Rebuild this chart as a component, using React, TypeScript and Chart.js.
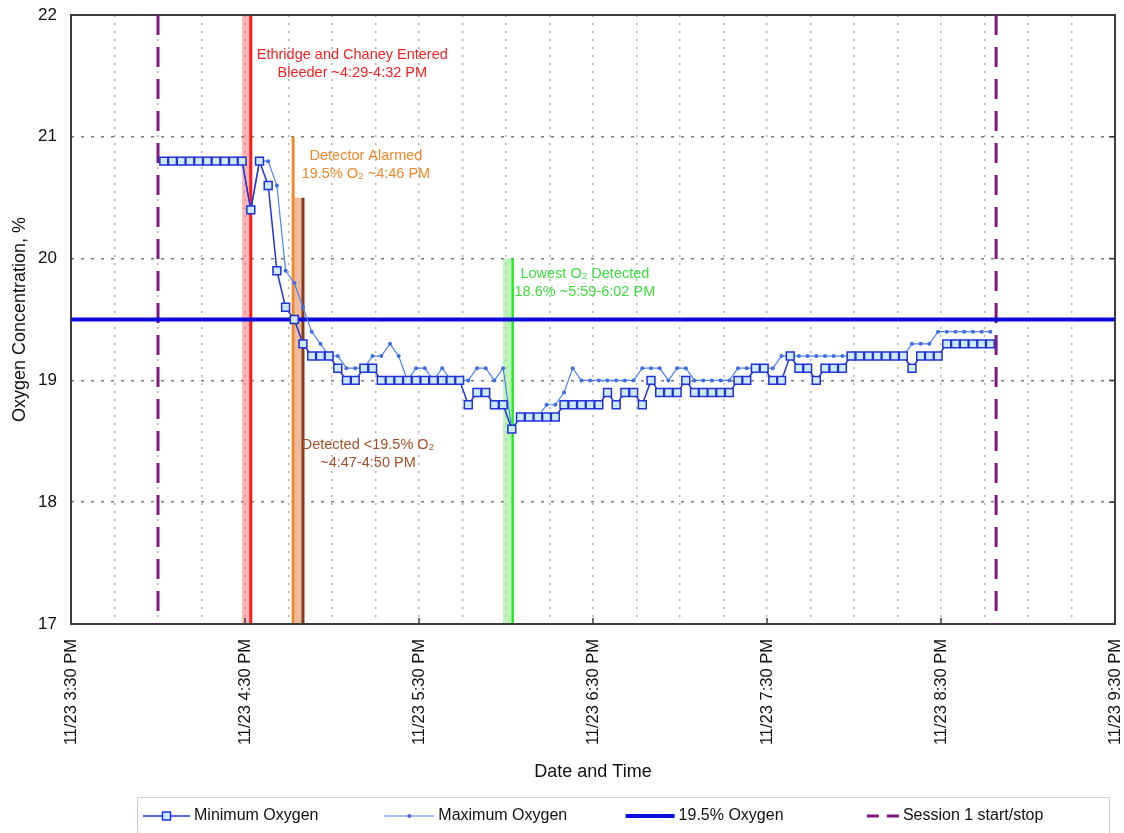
import React, { useEffect, useRef } from 'react';
import { Chart, registerables } from 'chart.js';

Chart.register(...registerables);

// ---------- data ----------
const sampleTimes = [
  '16:02', '16:05', '16:08', '16:11', '16:14', '16:17', '16:20', '16:23', '16:26', '16:29',
  '16:32', '16:35', '16:38', '16:41', '16:44', '16:47', '16:50', '16:53', '16:56', '16:59',
  '17:02', '17:05', '17:08', '17:11', '17:14', '17:17', '17:20', '17:23', '17:26', '17:29',
  '17:32', '17:35', '17:38', '17:41', '17:44', '17:47', '17:50', '17:53', '17:56', '17:59',
  '18:02', '18:05', '18:08', '18:11', '18:14', '18:17', '18:20', '18:23', '18:26', '18:29',
  '18:32', '18:35', '18:38', '18:41', '18:44', '18:47', '18:50', '18:53', '18:56', '18:59',
  '19:02', '19:05', '19:08', '19:11', '19:14', '19:17', '19:20', '19:23', '19:26', '19:29',
  '19:32', '19:35', '19:38', '19:41', '19:44', '19:47', '19:50', '19:53', '19:56', '19:59',
  '20:02', '20:05', '20:08', '20:11', '20:14', '20:17', '20:20', '20:23', '20:26', '20:29',
  '20:32', '20:35', '20:38', '20:41', '20:44', '20:47',
];

const minimumOxygen = [
  20.8, 20.8, 20.8, 20.8, 20.8, 20.8, 20.8, 20.8, 20.8, 20.8,
  20.4, 20.8, 20.6, 19.9, 19.6, 19.5, 19.3, 19.2, 19.2, 19.2,
  19.1, 19.0, 19.0, 19.1, 19.1, 19.0, 19.0, 19.0, 19.0, 19.0,
  19.0, 19.0, 19.0, 19.0, 19.0, 18.8, 18.9, 18.9, 18.8, 18.8,
  18.6, 18.7, 18.7, 18.7, 18.7, 18.7, 18.8, 18.8, 18.8, 18.8,
  18.8, 18.9, 18.8, 18.9, 18.9, 18.8, 19.0, 18.9, 18.9, 18.9,
  19.0, 18.9, 18.9, 18.9, 18.9, 18.9, 19.0, 19.0, 19.1, 19.1,
  19.0, 19.0, 19.2, 19.1, 19.1, 19.0, 19.1, 19.1, 19.1, 19.2,
  19.2, 19.2, 19.2, 19.2, 19.2, 19.2, 19.1, 19.2, 19.2, 19.2,
  19.3, 19.3, 19.3, 19.3, 19.3, 19.3,
];

const maximumOxygen = [
  20.8, 20.8, 20.8, 20.8, 20.8, 20.8, 20.8, 20.8, 20.8, 20.8,
  20.4, 20.8, 20.8, 20.6, 19.9, 19.8, 19.6, 19.4, 19.3, 19.2,
  19.2, 19.1, 19.1, 19.1, 19.2, 19.2, 19.3, 19.2, 19.0, 19.1,
  19.1, 19.0, 19.1, 19.0, 19.0, 19.0, 19.1, 19.1, 19.0, 19.1,
  18.6, 18.7, 18.7, 18.7, 18.8, 18.8, 18.9, 19.1, 19.0, 19.0,
  19.0, 19.0, 19.0, 19.0, 19.0, 19.1, 19.1, 19.1, 19.0, 19.1,
  19.1, 19.0, 19.0, 19.0, 19.0, 19.0, 19.1, 19.1, 19.1, 19.1,
  19.1, 19.2, 19.2, 19.2, 19.2, 19.2, 19.2, 19.2, 19.2, 19.2,
  19.2, 19.2, 19.2, 19.2, 19.2, 19.2, 19.3, 19.3, 19.3, 19.4,
  19.4, 19.4, 19.4, 19.4, 19.4, 19.4,
];

const thresholdLevel = 19.5;
const sessionTimes = ['16:00', '20:49'];
const seriesLabels = ['Minimum Oxygen', 'Maximum Oxygen', '19.5% Oxygen', 'Session 1 start/stop'];

const xAxisStart = '15:30';
const xAxisEnd = '21:30';
const xTickLabels = [
  '11/23 3:30 PM', '11/23 4:30 PM', '11/23 5:30 PM', '11/23 6:30 PM',
  '11/23 7:30 PM', '11/23 8:30 PM', '11/23 9:30 PM',
];
const yMin = 17;
const yMax = 22;

// event markers
const eventBands = [
  { from: '16:29', to: '16:32', top: 22, color: 'rgba(240,120,120,0.55)' },
  { from: '16:47', to: '16:50', top: 20.5, color: 'rgba(226,160,120,0.7)' },
  { from: '17:59', to: '18:02', top: 20, color: 'rgba(150,235,140,0.6)' },
];
const eventLines = [
  { at: '16:32', top: 22, color: '#ff1a1a', width: 3 },
  { at: '16:46.6', top: 21, color: '#f08a2a', width: 3 },
  { at: '16:50', top: 20.5, color: '#8a3a1a', width: 3 },
  { at: '18:02.3', top: 20, color: '#22ee22', width: 2.5 },
];
const eventNotes = [
  { at: '17:07', value: 21.67, color: '#ef2424', lines: ['Ethridge and Chaney Entered', 'Bleeder ~4:29-4:32 PM'] },
  { at: '17:11.7', value: 20.84, color: '#f0862c', lines: ['Detector Alarmed', '19.5% O\u2082 ~4:46 PM'] },
  { at: '17:12.4', value: 18.47, color: '#a4502a', lines: ['Detected <19.5% O\u2082', '~4:47-4:50 PM'] },
  { at: '18:27.2', value: 19.87, color: '#3ddd3d', lines: ['Lowest O\u2082 Detected', '18.6% ~5:59-6:02 PM'] },
];

// ---------- helpers ----------
const toMin = (t: string) => {
  const [h, m] = t.split(':').map(Number);
  const [h0, m0] = xAxisStart.split(':').map(Number);
  return h * 60 + m - (h0 * 60 + m0);
};

const FONT = "'Liberation Sans', Arial, 'DejaVu Sans', sans-serif";

const clearPadding = (s: any) => {
  s.paddingTop = 0;
  s.paddingBottom = 0;
  s.paddingLeft = 0;
  s.paddingRight = 0;
};

const overlayPlugin = {
  id: 'overlay',
  beforeDatasetsDraw(chart: any) {
    const { ctx, chartArea: a, scales } = chart;
    const x = scales.x;
    const y = scales.y;
    const bottom = y.getPixelForValue(yMin);
    ctx.save();
    ctx.beginPath();
    ctx.rect(a.left, a.top, a.right - a.left, a.bottom - a.top);
    ctx.clip();
    eventBands.forEach((b) => {
      const x1 = x.getPixelForValue(toMin(b.from));
      const x2 = x.getPixelForValue(toMin(b.to));
      const yt = y.getPixelForValue(b.top);
      ctx.fillStyle = b.color;
      ctx.fillRect(x1, yt, x2 - x1, bottom - yt);
    });
    eventLines.forEach((l) => {
      const px = x.getPixelForValue(toMin(l.at));
      ctx.strokeStyle = l.color;
      ctx.lineWidth = l.width;
      ctx.beginPath();
      ctx.moveTo(px, y.getPixelForValue(l.top));
      ctx.lineTo(px, bottom);
      ctx.stroke();
    });
    ctx.restore();

    // frame
    ctx.save();
    ctx.strokeStyle = '#3c3c3c';
    ctx.lineWidth = 2;
    ctx.strokeRect(a.left, a.top, a.right - a.left, a.bottom - a.top);
    ctx.lineWidth = 1.5;
    xTickLabels.forEach((_, i) => {
      const px = x.getPixelForValue(i * 60);
      ctx.beginPath();
      ctx.moveTo(px, a.bottom);
      ctx.lineTo(px, a.bottom - 6);
      ctx.stroke();
    });
    for (let v = yMin; v <= yMax; v++) {
      const py = y.getPixelForValue(v);
      ctx.beginPath();
      ctx.moveTo(a.right, py);
      ctx.lineTo(a.right - 6, py);
      ctx.stroke();
    }
    ctx.restore();
  },
  afterDatasetsDraw(chart: any) {
    const { ctx, scales } = chart;
    const x = scales.x;
    const y = scales.y;
    ctx.save();
    ctx.font = `14.5px ${FONT}`;
    ctx.textAlign = 'center';
    ctx.textBaseline = 'middle';
    eventNotes.forEach((n) => {
      const px = x.getPixelForValue(toMin(n.at));
      const py = y.getPixelForValue(n.value);
      ctx.fillStyle = n.color;
      n.lines.forEach((line, i) => ctx.fillText(line, px, py + i * 18));
    });
    ctx.restore();
  },
  afterDraw(chart: any) {
    const { ctx } = chart;
    const ds = chart.data.datasets;
    ctx.save();
    ctx.strokeStyle = '#cfcfcf';
    ctx.lineWidth = 1;
    ctx.strokeRect(137.5, 797.5, 972, 60);
    const cy = 816;
    const sampleWidths = [47, 50, 49, 32];
    ds.forEach((d: any, i: number) => {
      const sx = 143 + i * 241.3;
      const w = sampleWidths[i];
      ctx.save();
      ctx.strokeStyle = d.borderColor;
      ctx.lineWidth = d.borderWidth;
      if (d.borderDash) ctx.setLineDash([12, 8]);
      ctx.beginPath();
      ctx.moveTo(sx, cy);
      ctx.lineTo(sx + w, cy);
      ctx.stroke();
      ctx.setLineDash([]);
      if (d.pointRadius > 0) {
        const cx = sx + w / 2;
        if (d.pointStyle === 'rect') {
          ctx.fillStyle = d.pointBackgroundColor;
          ctx.strokeStyle = d.pointBorderColor;
          ctx.lineWidth = d.pointBorderWidth;
          ctx.fillRect(cx - 4, cy - 4, 8, 8);
          ctx.strokeRect(cx - 4, cy - 4, 8, 8);
        } else {
          ctx.fillStyle = d.pointBackgroundColor;
          ctx.beginPath();
          ctx.arc(cx, cy, d.pointRadius, 0, Math.PI * 2);
          ctx.fill();
        }
      }
      ctx.restore();
      ctx.fillStyle = '#111';
      ctx.font = `16px ${FONT}`;
      ctx.textAlign = 'left';
      ctx.textBaseline = 'middle';
      ctx.fillText(d.label, sx + w + 4, cy);
    });
    ctx.restore();
  },
};

export default function App() {
  const canvasRef = useRef<HTMLCanvasElement | null>(null);

  useEffect(() => {
    if (!canvasRef.current) return;
    const xMax = toMin(xAxisEnd);
    const chart = new Chart(canvasRef.current, {
      type: 'line',
      data: {
        datasets: [
          {
            label: seriesLabels[0],
            data: sampleTimes.map((t, i) => ({ x: toMin(t), y: minimumOxygen[i] })),
            borderColor: '#2235d8',
            borderWidth: 1.5,
            pointStyle: 'rect',
            pointRadius: 5.6,
            pointBorderWidth: 1.5,
            pointBackgroundColor: '#cde9ff',
            pointBorderColor: '#1f33d6',
            tension: 0,
          },
          {
            label: seriesLabels[1],
            data: sampleTimes.map((t, i) => ({ x: toMin(t), y: maximumOxygen[i] })),
            borderColor: '#4f82ee',
            borderWidth: 1.2,
            pointStyle: 'circle',
            pointRadius: 2,
            pointBorderWidth: 0,
            pointBackgroundColor: '#3d6ee6',
            pointBorderColor: '#3d6ee6',
            tension: 0,
          },
          {
            label: seriesLabels[2],
            data: [
              { x: 0, y: thresholdLevel },
              { x: xMax, y: thresholdLevel },
            ],
            borderColor: '#0a0ade',
            borderWidth: 4,
            pointRadius: 0,
          },
          {
            label: seriesLabels[3],
            data: [
              { x: toMin(sessionTimes[0]), y: yMax },
              { x: toMin(sessionTimes[0]), y: yMin },
              { x: (toMin(sessionTimes[0]) + toMin(sessionTimes[1])) / 2, y: null },
              { x: toMin(sessionTimes[1]), y: yMax },
              { x: toMin(sessionTimes[1]), y: yMin },
            ],
            borderColor: '#7e1680',
            borderWidth: 3,
            borderDash: [20, 12],
            pointRadius: 0,
            spanGaps: false,
          },
        ] as any,
      },
      options: {
        animation: false,
        responsive: false,
        events: [],
        layout: { padding: { left: 0, right: 9, top: 15, bottom: 45 } },
        plugins: {
          legend: { display: false },
          tooltip: { enabled: false },
        },
        scales: {
          x: {
            type: 'linear',
            min: 0,
            max: xMax,
            afterFit: (s: any) => {
              s.height = 164;
              clearPadding(s);
            },
            ticks: {
              stepSize: 15,
              autoSkip: false,
              minRotation: 90,
              maxRotation: 90,
              padding: 15,
              color: '#111',
              font: { family: FONT, size: 16.5 },
              callback: (v: any) => {
                const m = Math.round(Number(v));
                return m % 60 === 0 ? xTickLabels[m / 60] : '';
              },
            },
            grid: { color: '#b2b2b2', lineWidth: 1.5, drawTicks: false },
            border: { display: false, dash: [2, 6] },
            title: {
              display: true,
              text: 'Date and Time',
              color: '#111',
              font: { family: FONT, size: 18 },
              padding: { top: 0, bottom: 5 },
            },
          },
          y: {
            type: 'linear',
            min: yMin,
            max: yMax,
            afterFit: (s: any) => {
              s.width = 71;
              clearPadding(s);
            },
            ticks: {
              stepSize: 1,
              padding: 14,
              color: '#111',
              font: { family: FONT, size: 17 },
            },
            grid: { color: '#7a7a7a', lineWidth: 1.5, drawTicks: false },
            border: { display: false, dash: [3, 7] },
            title: {
              display: true,
              text: 'Oxygen Concentration, %',
              color: '#111',
              font: { family: FONT, size: 18 },
              padding: { top: 9, bottom: 0 },
            },
          },
        },
      } as any,
      plugins: [overlayPlugin],
    });
    return () => chart.destroy();
  }, []);

  return (
    <div style={{ position: 'absolute', left: 0, top: 0, width: 1124, height: 833, background: '#fff' }}>
      <canvas ref={canvasRef} width={1124} height={833} />
    </div>
  );
}
